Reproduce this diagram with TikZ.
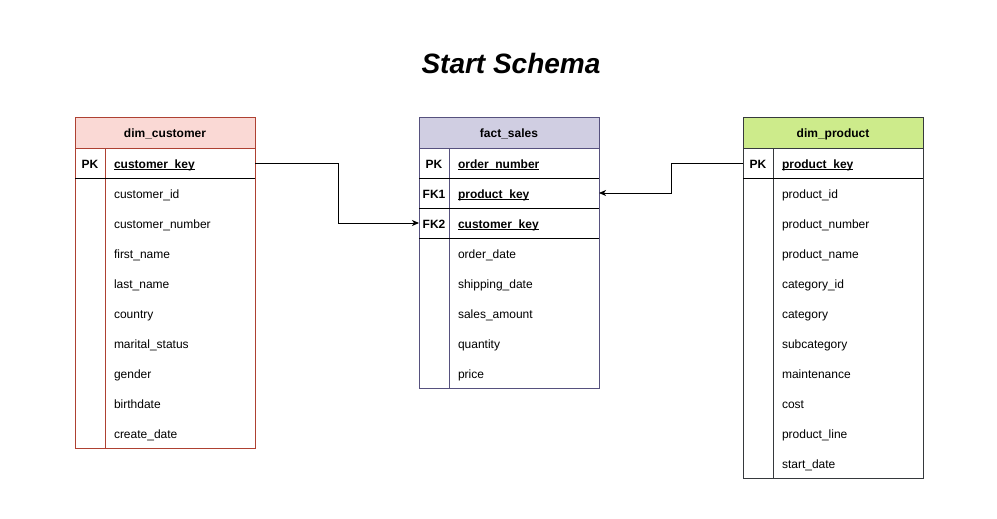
\documentclass[tikz,border=0pt]{standalone}
\usepackage{fontspec}
\setmainfont{Liberation Sans}
\usetikzlibrary{positioning,arrows.meta}
\definecolor{custfill}{HTML}{FAD9D5}
\definecolor{custline}{HTML}{AE4132}
\definecolor{factfill}{HTML}{D0CEE2}
\definecolor{factline}{HTML}{56517E}
\definecolor{prodfill}{HTML}{CDEB8B}
\definecolor{prodline}{HTML}{36393D}
\newcommand{\keyname}[1]{\underline{\smash{#1}}}
\tikzset{
 tblhead/.style={draw, minimum width=180pt, minimum height=30pt, text height=11pt, text depth=1pt, inner sep=0pt, outer sep=0pt, font=\fontsize{12}{14}\selectfont\bfseries},
 keycell/.style={minimum width=30pt, minimum height=30pt, text height=11pt, text depth=1pt, inner sep=0pt, outer sep=0pt, font=\fontsize{12}{14}\selectfont\bfseries},
 field/.style={minimum height=30pt, text width=132pt, text height=11pt, text depth=1pt, inner xsep=9pt, inner ysep=0pt, outer sep=0pt, align=left},
 keyfield/.style={field, font=\fontsize{12}{14}\selectfont\bfseries},
}
\begin{document}
\begin{tikzpicture}[x=1pt, y=-1pt, font=\fontsize{12}{14}\selectfont, line width=1pt, >={Stealth[length=7pt,width=6pt,inset=2pt]}]
 \useasboundingbox (0,0) rectangle (997,519);
 \node (title) at (511,63) {\fontsize{28}{32}\selectfont\bfseries\itshape Start Schema};
 % dim_customer
 \node[tblhead, fill=custfill, draw=custline] (cust) at (165,133) {dim\_customer};
 \node[keycell] (custpk) at (90,163) {PK};
 \node[keyfield] (custkey) at (180,163) {\keyname{customer\_key}};
 \foreach \f [count=\i] in {customer\_id, customer\_number, first\_name, last\_name, country, marital\_status, gender, birthdate, create\_date}
  \node[field] (cust\i) at (180,163+30*\i) {\f};
 \draw[custline] (custpk.north west) rectangle (cust9.south east) (custpk.north east) -- (custpk.east |- cust9.south);
 \draw (custpk.south west) -- (custkey.south east);
 % fact_sales
 \node[tblhead, fill=factfill, draw=factline] (fact) at (509,133) {fact\_sales};
 \foreach \k/\f [count=\i] in {PK/order\_number, FK1/product\_key, FK2/customer\_key} {
  \node[keycell] (factk\i) at (434,133+30*\i) {\k};
  \node[keyfield] (factf\i) at (524,133+30*\i) {\keyname{\f}};
 }
 \foreach \f [count=\i] in {order\_date, shipping\_date, sales\_amount, quantity, price}
  \node[field] (fact\i) at (524,223+30*\i) {\f};
 \draw[factline] (factk1.north west) rectangle (fact5.south east) (factk1.north east) -- (factk1.east |- fact5.south);
 \foreach \i in {1,2,3} \draw (factk\i.south west) -- (factf\i.south east);
 % dim_product
 \node[tblhead, fill=prodfill, draw=prodline] (prod) at (833,133) {dim\_product};
 \node[keycell] (prodpk) at (758,163) {PK};
 \node[keyfield] (prodkey) at (848,163) {\keyname{product\_key}};
 \foreach \f [count=\i] in {product\_id, product\_number, product\_name, category\_id, category, subcategory, maintenance, cost, product\_line, start\_date}
  \node[field] (prod\i) at (848,163+30*\i) {\f};
 \draw[prodline] (prodpk.north west) rectangle (prod10.south east) (prodpk.north east) -- (prodpk.east |- prod10.south);
 \draw (prodpk.south west) -- (prodkey.south east);
 % links
 \draw[->] (custkey.east) -- ++(83,0) |- (factk3.west);
 \draw[->] (prodpk.west) -- ++(-72,0) |- (factf2.east);
\end{tikzpicture}
\end{document}
